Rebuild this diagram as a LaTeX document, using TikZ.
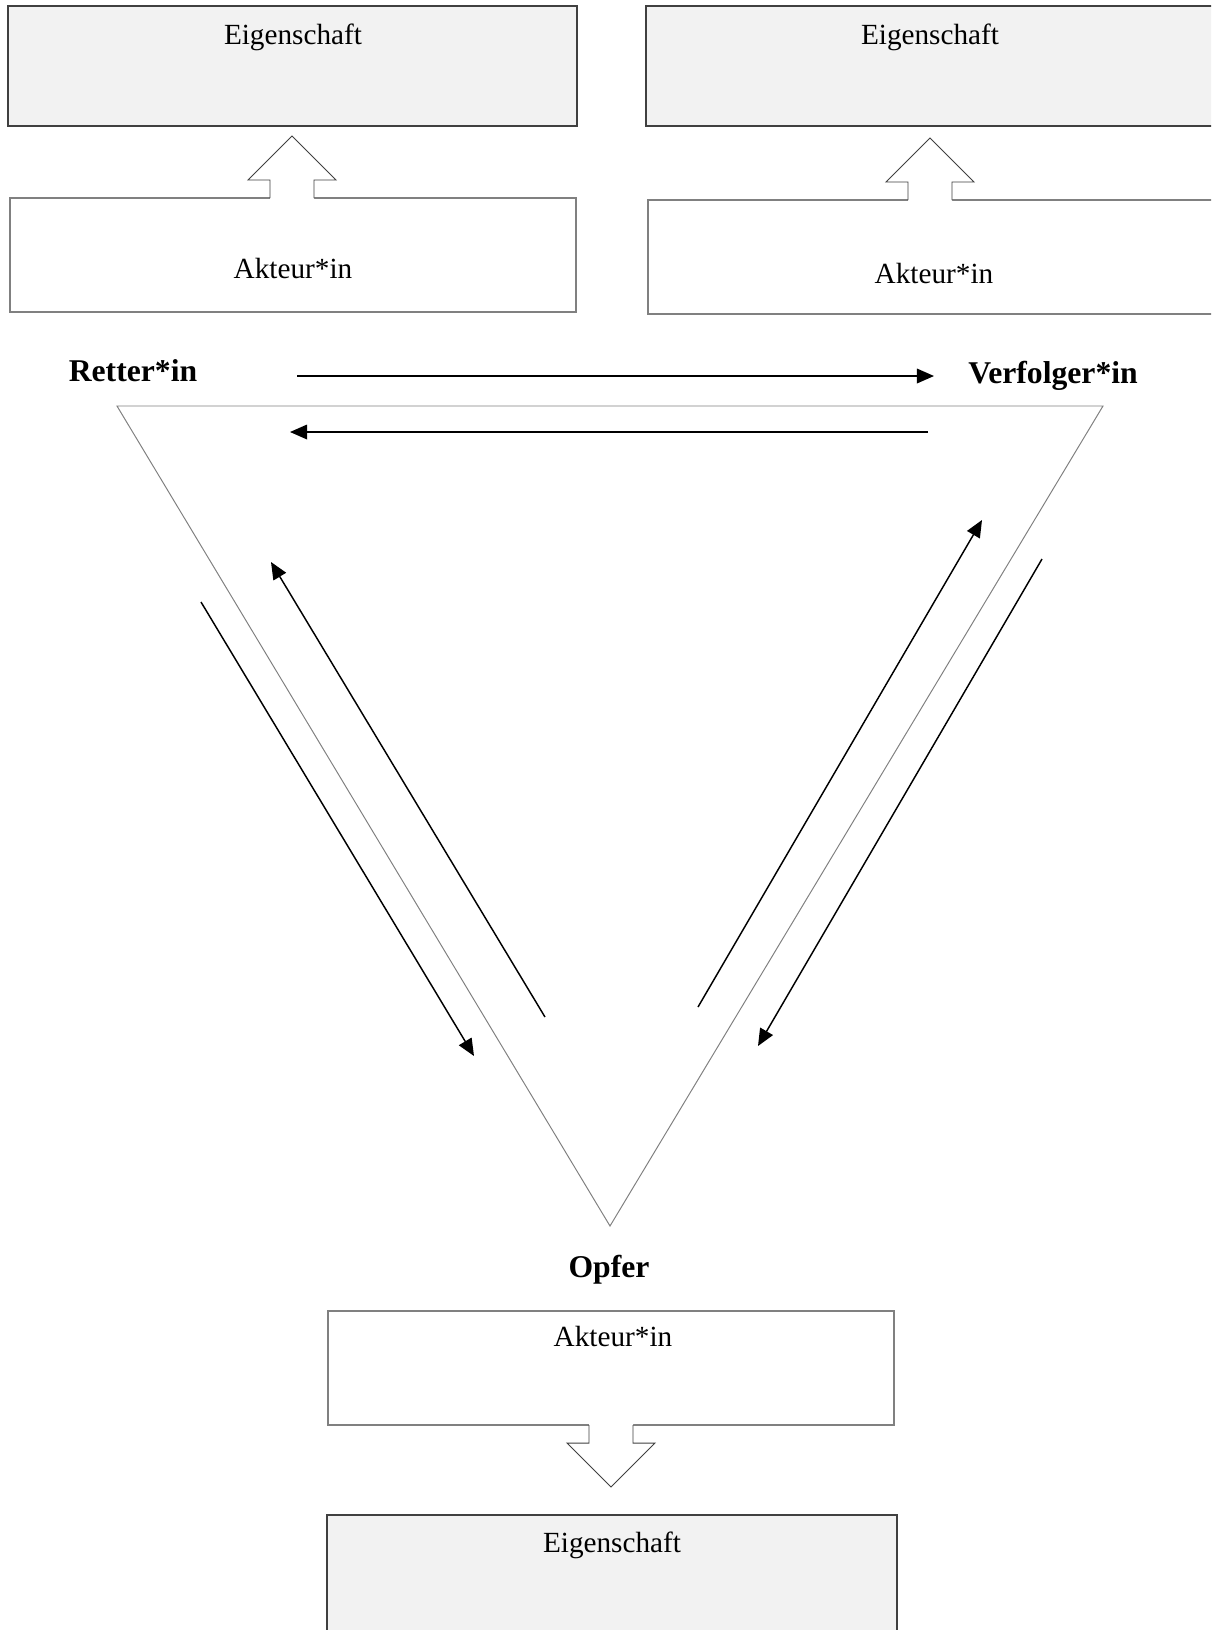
\documentclass[tikz,border=0pt]{standalone}
\usepackage{fontspec}
\setmainfont{Liberation Serif}
\usepackage{tikz}
\usetikzlibrary{arrows.meta}
\definecolor{boxgray}{RGB}{242,242,242}
\definecolor{framedark}{RGB}{64,64,64}
\definecolor{framelight}{RGB}{128,128,128}

\begin{document}
\begin{tikzpicture}[x=0.4105pt,y=-0.4105pt,
  eigbox/.style={draw=framedark, line width=0.6pt, fill=boxgray},
  aktbox/.style={draw=framelight, line width=0.5pt, fill=white},
  boxtext/.style={font=\fontsize{12pt}{14pt}\selectfont, anchor=base, inner sep=0pt},
  roletext/.style={font=\fontsize{13pt}{15pt}\selectfont\bfseries, anchor=base, inner sep=0pt},
  swap/.style={line width=0.6pt, -{Triangle[length=7pt,width=6pt]}},
  hollow/.style={draw=framedark, line width=0.4pt}]
						\useasboundingbox (0,0) rectangle (1211,1630);
						\clip (0,0) rectangle (1211,1630);
						\fill[white] (0,0) rectangle (1211,1630);
						
						\coordinate (R) at (117,406);
						\coordinate (V) at (1103,406);
						\coordinate (O) at (610,1226);
						\coordinate (upL) at (292,136);
						\coordinate (upR) at (930,138);
						\coordinate (dnO) at (611,1487);
						
						\draw[eigbox] (8,6) rectangle (577,126);
						\draw[eigbox] (646,6) rectangle (1230,126);
						\draw[aktbox] (10,198) rectangle (576,312);
						\draw[aktbox] (648,200) rectangle (1230,314);
						\draw[aktbox] (328,1311) rectangle (894,1425);
						\draw[eigbox] (327,1515) rectangle (897,1650);
						
						\foreach \t in {upL,upR} {
							\fill[white] (\t) ++(-22,63.5) -- ++(0,-19.5) -- ++(-22,0) -- ++(44,-44) -- ++(44,44) -- ++(-22,0) -- ++(0,19.5) -- cycle;
							\draw[hollow] (\t) ++(-22,62) -- ++(0,-18) -- ++(-22,0) -- ++(44,-44) -- ++(44,44) -- ++(-22,0) -- ++(0,18);
						}
						\fill[white] (dnO) ++(-22,-63.5) -- ++(0,19.5) -- ++(-22,0) -- ++(44,44) -- ++(44,-44) -- ++(-22,0) -- ++(0,-19.5) -- cycle;
						\draw[hollow] (dnO) ++(-22,-62) -- ++(0,18) -- ++(-22,0) -- ++(44,44) -- ++(44,-44) -- ++(-22,0) -- ++(0,-18);
						
						\node[boxtext] (eigL) at (293,44) {Eigenschaft};
						\node[boxtext] (eigR) at (930,44) {Eigenschaft};
						\node[boxtext] (aktL) at (293,278) {Akteur*in};
						\node[boxtext] (aktR) at (934,283) {Akteur*in};
						\node[boxtext] (aktO) at (613,1346) {Akteur*in};
						\node[boxtext] (eigO) at (612,1552) {Eigenschaft};
						
						\draw[draw=framelight, line width=0.4pt] (R) -- (V) -- (O) -- cycle;
						
						\node[roletext] (retter) at (133,381) {Retter*in};
						\node[roletext] (verfolger) at (1053,383) {Verfolger*in};
						\node[roletext] (opfer) at (609,1277) {Opfer};
						
						\coordinate (RV1) at (297,376);
						\coordinate (RV2) at (934,376);
						\coordinate (VR1) at (928,432);
						\coordinate (VR2) at (290,432);
						\coordinate (RO1) at (201,602);
						\coordinate (RO2) at (474,1056);
						\coordinate (OR1) at (545,1017);
						\coordinate (OR2) at (271,562);
						\coordinate (OV1) at (698,1007);
						\coordinate (OV2) at (982,520);
						\coordinate (VO1) at (1042,559);
						\coordinate (VO2) at (758,1046);
						
						\draw[swap] (RV1) -- (RV2);
						\draw[swap] (VR1) -- (VR2);
						\draw[swap] (RO1) -- (RO2);
						\draw[swap] (OR1) -- (OR2);
						\draw[swap] (OV1) -- (OV2);
						\draw[swap] (VO1) -- (VO2);
					\end{tikzpicture}
\end{document}
